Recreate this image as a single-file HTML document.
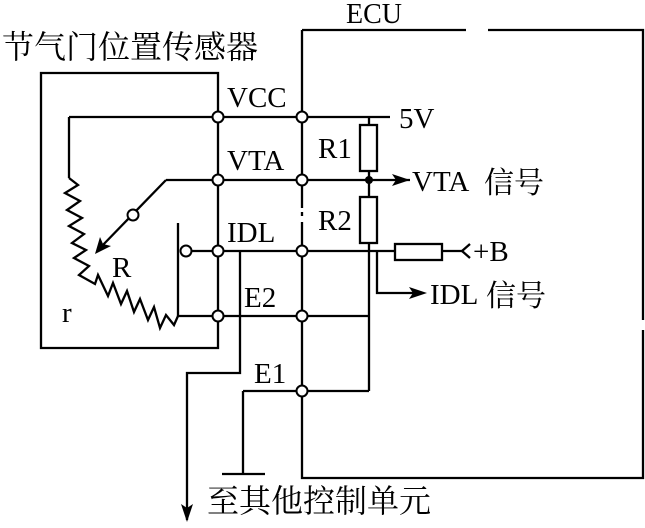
<!DOCTYPE html>
<html><head><style>
body{margin:0;background:#fff}
svg{display:block}
text{font-family:"Liberation Serif","Noto Serif CJK SC",serif;fill:#000}
.l{font-size:29px}
.c{font-size:32px;font-family:"Liberation Serif","Noto Serif CJK SC",serif}
</style></head><body>
<svg width="645" height="528" viewBox="0 0 645 528" xmlns="http://www.w3.org/2000/svg">
<g fill="none" stroke="#000" stroke-width="2.3">
<path d="M41,73 H218 V348 H41 Z"/>
<path d="M302,30 H466 M488,30 H643 V478 H302 V30"/>
<path d="M69,117 H390"/>
<path d="M166,180 H410"/>
<path d="M186,251 H395 M442,251 H462"/>
<path d="M178,316 H369"/>
<path d="M243,391 H369"/>
<path d="M69,117 V178"/>
<path d="M69,178 L78,185 L65,193 L80,201 L67,210 L82,218 L69,226 L84,234 L72,243 L86,250 L74,258 L89,266 L79,275 L95,284 L98,275 L108,296 L113,283 L121,304 L127,291 L134,312 L140,299 L148,320 L154,307 L160,328 L166,315 L174,325 L178,316"/>
<path d="M178,223 V316"/>
<path d="M166,180 L100,248"/>
<path d="M369,117 V125 M369,171 V197 M369,243 V391"/>
<rect x="360" y="125" width="17" height="46"/>
<rect x="360" y="197" width="17" height="46"/>
<rect x="395" y="244" width="47" height="16"/>
<path d="M470,244 L462,251 L470,258"/>
<path d="M377,251 V293 H415"/>
<path d="M240,251 V373 H187 V520"/>
<path d="M243,391 V474 M222,474 H265"/>
</g>
<rect x="299" y="208" width="6" height="4" fill="#fff"/>
<rect x="299" y="216" width="6" height="6" fill="#fff"/>
<rect x="640" y="320" width="6" height="10" fill="#fff"/>
<g fill="#000">
<path d="M410,180 L392,174 L396,180 L392,186 Z"/>
<path d="M427,293 L409,287 L413,293 L409,299 Z"/>
<path d="M187,522 L181,504 L187,508 L193,504 Z"/>
<path d="M95,254 L100,237 L103,244 L111,246 Z"/>
<circle cx="369" cy="180" r="4"/>
</g>
<g fill="#fff" stroke="#000" stroke-width="2">
<circle cx="218" cy="117" r="5.5"/><circle cx="218" cy="180" r="5.5"/><circle cx="218" cy="251" r="5.5"/><circle cx="218" cy="316" r="5.5"/>
<circle cx="302" cy="117" r="5.5"/><circle cx="302" cy="180" r="5.5"/><circle cx="302" cy="251" r="5.5"/><circle cx="302" cy="316" r="5.5"/><circle cx="302" cy="391" r="5.5"/>
<circle cx="186" cy="251" r="5.5"/><circle cx="133" cy="215" r="5.5"/>
</g>
<text x="346" y="23" style="font-size:28px">ECU</text>
<text class="l" x="227" y="107">VCC</text>
<text class="l" x="227" y="170">VTA</text>
<text class="l" x="227" y="242">IDL</text>
<text class="l" x="244" y="307">E2</text>
<text class="l" x="254" y="383">E1</text>
<text class="l" x="318" y="158">R1</text>
<text class="l" x="318" y="230">R2</text>
<text class="l" x="399" y="128">5V</text>
<text class="l" x="412" y="191">VTA</text>
<text class="l" x="473" y="261">+B</text>
<text class="l" x="430" y="304">IDL</text>
<text class="l" x="112" y="277">R</text>
<text class="l" x="62" y="322">r</text>
<text class="c" x="2" y="58">节气门位置传感器</text>
<text x="484" y="193" style="font-size:30px">信号</text>
<text x="486" y="306" style="font-size:30px">信号</text>
<text class="c" x="207" y="512">至其他控制单元</text>
</svg>
</body></html>
